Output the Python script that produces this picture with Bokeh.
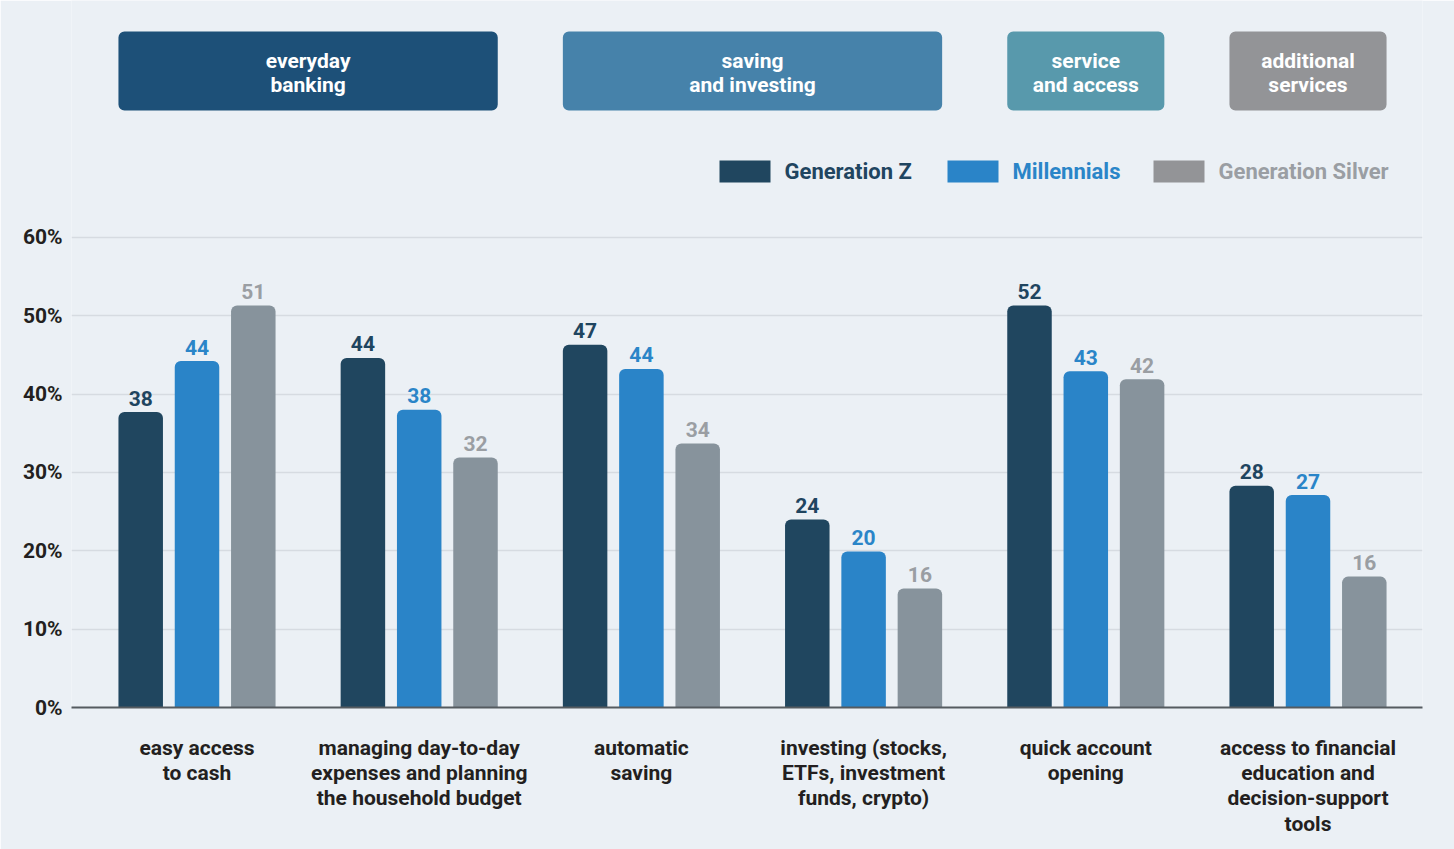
from bokeh.plotting import figure
from bokeh.models import Range1d, FixedTicker, ColumnDataSource
from bokeh.core.properties import value
from bokeh.embed import file_html
from bokeh.resources import INLINE

# ---------------- data ----------------
categories = [
    "easy access\nto cash",
    "managing day-to-day\nexpenses and planning\nthe household budget",
    "automatic\nsaving",
    "investing (stocks,\nETFs, investment\nfunds, crypto)",
    "quick account\nopening",
    "access to financial\neducation and\ndecision-support\ntools",
]
series = ["Generation Z", "Millennials", "Generation Silver"]
gen_z = [37.7, 44.6, 46.3, 24.0, 51.3, 28.3]
millennials = [44.2, 38.0, 43.2, 19.9, 42.9, 27.1]
gen_silver = [51.3, 31.9, 33.7, 15.2, 41.9, 16.7]
gen_z_labels = ["38", "44", "47", "24", "52", "28"]
millennials_labels = ["44", "38", "44", "20", "43", "27"]
gen_silver_labels = ["51", "32", "34", "16", "42", "16"]
groups = ["everyday\nbanking", "saving\nand investing", "service\nand access", "additional\nservices"]
group_first = [0, 2, 4, 5]
group_last = [1, 3, 4, 5]
y_ticks = [0, 10, 20, 30, 40, 50, 60]
y_tick_labels = ["0%", "10%", "20%", "30%", "40%", "50%", "60%"]

# ---------------- styles ----------------
BG = "#ebf0f5"
bar_colors = ["#20465f", "#2a84c8", "#87939c"]
label_colors = ["#1f4560", "#2a85c8", "#9a9ea3"]
swatch_colors = ["#20465f", "#2a84c8", "#939497"]
group_colors = ["#1d5078", "#4682aa", "#5899ac", "#939497"]
FONT_NAME = "Roboto"
FONT = value(FONT_NAME)
TXT = "#231f20"

# layout helpers (canvas pixel -> data units)
CAT_PX = 222.2
C0 = 196.5
UNIT_PX = 7.837
ZERO_PY = 707.0


def X(px):
    return (px - C0) / CAT_PX


def Y(py):
    return (ZERO_PY - py) / UNIT_PX


W = 1454
H = 849
BW = 44.5 / CAT_PX
OFF = 56.3 / CAT_PX

p = figure(width=W, height=H, output_backend="svg", toolbar_location=None,
           x_range=Range1d(X(71), X(1422)), y_range=Range1d(0, Y(0)),
           min_border_left=71, min_border_right=W - 1422, min_border_top=0,
           min_border_bottom=H - 707)
p.background_fill_color = BG
p.border_fill_color = BG
p.outline_line_color = None

# grid / axes
p.xgrid.grid_line_color = None
p.ygrid.ticker = FixedTicker(ticks=y_ticks[1:])
p.ygrid.grid_line_color = "#d6dbe1"
p.ygrid.grid_line_width = 1.5

p.yaxis.ticker = FixedTicker(ticks=y_ticks)
p.yaxis.major_label_overrides = {t: l for t, l in zip(y_ticks, y_tick_labels)}
p.yaxis.axis_line_color = None
p.yaxis.major_tick_line_color = None
p.yaxis.minor_tick_line_color = None
p.yaxis.major_tick_out = 0
p.yaxis.major_label_standoff = 9
p.yaxis.major_label_text_font = FONT_NAME
p.yaxis.major_label_text_font_style = "bold"
p.yaxis.major_label_text_font_size = "21px"
p.yaxis.major_label_text_color = TXT

xt = list(range(len(categories)))
p.xaxis.ticker = FixedTicker(ticks=xt)
p.xaxis.major_label_overrides = {i: c for i, c in zip(xt, categories)}
p.xaxis.axis_line_color = "#555b60"
p.xaxis.axis_line_width = 2
p.xaxis.major_tick_line_color = None
p.xaxis.minor_tick_line_color = None
p.xaxis.major_tick_out = 0
p.xaxis.major_label_standoff = 28
p.xaxis.major_label_text_font = FONT_NAME
p.xaxis.major_label_text_font_style = "bold"
p.xaxis.major_label_text_font_size = "21px"
p.xaxis.major_label_text_color = TXT
p.xaxis.major_label_text_line_height = 1.06

# bars + value labels
all_vals = [gen_z, millennials, gen_silver]
all_labels = [gen_z_labels, millennials_labels, gen_silver_labels]
for k, (vals, labs) in enumerate(zip(all_vals, all_labels)):
    xs = [i + (k - 1) * OFF for i in range(len(categories))]
    src = ColumnDataSource(dict(x=xs, top=vals, lab=labs))
    p.vbar(x="x", top="top", bottom=0, width=BW, source=src,
           fill_color=bar_colors[k], line_color=None,
           border_radius=(6, 6, 0, 0))
    p.text(x="x", y="top", text="lab", source=src, text_align="center",
           text_baseline="alphabetic", y_offset=-14, text_font=FONT,
           text_font_style="bold", text_font_size="21px",
           text_color=label_colors[k])

# group header boxes
gl = [group_first[g] - OFF - BW / 2 for g in range(len(groups))]
gr = [group_last[g] + OFF + BW / 2 for g in range(len(groups))]
gsrc = ColumnDataSource(dict(left=gl, right=gr, top=[Y(31)] * len(groups),
                             bottom=[Y(110)] * len(groups), color=group_colors,
                             cx=[(a + b) / 2 for a, b in zip(gl, gr)],
                             cy=[Y(72)] * len(groups), name=groups))
p.quad(left="left", right="right", top="top", bottom="bottom", source=gsrc,
       fill_color="color", line_color=None, border_radius=6)
p.text(x="cx", y="cy", text="name", source=gsrc, text_align="center",
       text_baseline="middle", text_font=FONT, text_font_style="bold",
       text_font_size="21px", text_color="white", text_line_height=1.0)

# legend (manual, coloured text)
sw_left = [719, 947, 1153]
lsrc = ColumnDataSource(dict(left=[X(v) for v in sw_left],
                             right=[X(v + 51) for v in sw_left],
                             top=[Y(160)] * 3, bottom=[Y(182)] * 3,
                             color=swatch_colors, tcol=label_colors,
                             tx=[X(v + 65) for v in sw_left],
                             ty=[Y(171)] * 3, name=series))
p.quad(left="left", right="right", top="top", bottom="bottom", source=lsrc,
       fill_color="color", line_color=None)
p.text(x="tx", y="ty", text="name", source=lsrc, text_align="left",
       text_baseline="middle", text_font=FONT, text_font_style="bold",
       text_font_size="22px", text_color="tcol")

open("out.html", "w").write(file_html(p, INLINE))
